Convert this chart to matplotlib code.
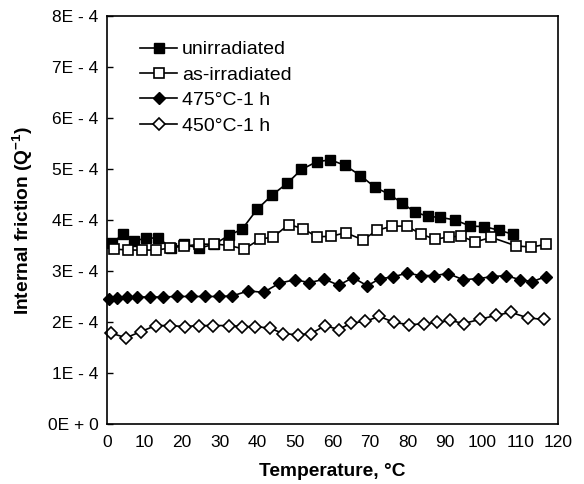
import numpy as np
import matplotlib
matplotlib.use('Agg')
import matplotlib.pyplot as plt

plt.rcParams['font.family'] = ['Liberation Sans', 'DejaVu Sans']
plt.rcParams['mathtext.fontset'] = 'custom'
plt.rcParams['mathtext.rm'] = 'Liberation Sans'
plt.rcParams['mathtext.bf'] = 'Liberation Sans:bold'

# unirradiated (filled squares)
t_unirr = [1.4, 4.3, 7.2, 10.3, 13.6, 17.0, 20.5, 24.5, 28.5, 32.5, 36.0, 40.0, 44.0, 48.0,
           51.8, 55.8, 59.5, 63.4, 67.5, 71.4, 75.0, 78.6, 81.9, 85.4, 88.8, 92.7, 96.7,
           100.5, 104.3, 108.1]
q_unirr = [3.55, 3.72, 3.59, 3.64, 3.65, 3.46, 3.52, 3.45, 3.52, 3.70, 3.82, 4.21, 4.49, 4.72,
           4.99, 5.14, 5.18, 5.07, 4.87, 4.64, 4.51, 4.33, 4.16, 4.07, 4.05, 4.00, 3.88,
           3.87, 3.80, 3.72]

# as-irradiated (open squares)
t_asirr = [1.9, 5.7, 9.3, 13.2, 16.8, 20.5, 24.5, 28.5, 32.5, 36.5, 40.7, 44.3, 48.4, 52.3,
           55.8, 59.6, 63.6, 68.1, 72.0, 76.0, 79.8, 83.7, 87.4, 91.0, 94.3, 98.1, 102.3,
           109.0, 113.0, 116.8]
q_asirr = [3.43, 3.41, 3.41, 3.41, 3.45, 3.49, 3.52, 3.53, 3.50, 3.43, 3.62, 3.67, 3.91, 3.83,
           3.67, 3.68, 3.75, 3.61, 3.80, 3.88, 3.88, 3.72, 3.62, 3.67, 3.68, 3.57, 3.66,
           3.49, 3.47, 3.52]

# 475C-1 h (filled diamonds)
t_475 = [0.5, 2.7, 5.3, 8.1, 11.4, 14.9, 18.6, 22.3, 26.1, 29.9, 33.4, 37.6, 41.7, 45.9,
         50.1, 53.9, 57.9, 61.7, 65.5, 69.3, 72.7, 76.1, 79.8, 83.5, 87.2, 90.8, 94.8,
         98.8, 102.6, 106.3, 109.9, 113.2, 116.8]
q_475 = [2.46, 2.48, 2.49, 2.49, 2.49, 2.49, 2.50, 2.50, 2.50, 2.50, 2.51, 2.61, 2.58, 2.76,
         2.83, 2.77, 2.84, 2.72, 2.87, 2.71, 2.85, 2.88, 2.96, 2.91, 2.91, 2.95, 2.83,
         2.85, 2.89, 2.91, 2.83, 2.79, 2.89]

# 450C-1 h (open diamonds)
t_450 = [1.2, 5.1, 9.0, 13.0, 16.7, 20.7, 24.5, 28.3, 32.4, 36.0, 39.5, 43.4, 47.0, 50.8,
         54.3, 58.1, 61.7, 65.0, 68.7, 72.5, 76.5, 80.3, 84.3, 87.8, 91.4, 95.0, 99.2,
         103.5, 107.6, 112.0, 116.3]
q_450 = [1.78, 1.69, 1.81, 1.93, 1.93, 1.91, 1.93, 1.93, 1.93, 1.91, 1.91, 1.88, 1.77, 1.75,
         1.77, 1.93, 1.85, 1.98, 2.01, 2.11, 1.99, 1.95, 1.96, 1.99, 2.03, 1.97, 2.05,
         2.13, 2.19, 2.08, 2.05]

y_labels = ['0E + 0', '1E - 4', '2E - 4', '3E - 4', '4E - 4', '5E - 4', '6E - 4', '7E - 4', '8E - 4']

fig = plt.figure(figsize=(5.84, 4.84), dpi=100)
ax = fig.add_axes([0.183, 0.124, 0.772, 0.843])

lw = 1.2
ax.plot(t_unirr, np.array(q_unirr) * 1e-4, '-s', color='black', mfc='black', mec='black',
        ms=7, lw=lw, label='unirradiated', clip_on=False)
ax.plot(t_asirr, np.array(q_asirr) * 1e-4, '-s', color='black', mfc='white', mec='black',
        ms=7, mew=1.2, lw=lw, label='as-irradiated', clip_on=False)
ax.plot(t_475, np.array(q_475) * 1e-4, '-D', color='black', mfc='black', mec='black',
        ms=6, lw=lw, label='475°C-1 h', clip_on=False)
ax.plot(t_450, np.array(q_450) * 1e-4, '-D', color='black', mfc='white', mec='black',
        ms=6, mew=1.2, lw=lw, label='450°C-1 h', clip_on=False)

ax.set_xlim(0, 120)
ax.set_ylim(0, 8e-4)
ax.set_xticks(np.arange(0, 121, 10))
ax.set_yticks(np.arange(0, 9) * 1e-4)
ax.set_yticklabels(y_labels)
ax.tick_params(axis='y', direction='in', length=4, width=1, labelsize=12.5, pad=6)
ax.tick_params(axis='x', length=0, labelsize=12.5, pad=8)
for s in ax.spines.values():
    s.set_linewidth(1.2)

ax.set_xlabel('Temperature, °C', fontsize=13.8, fontweight='bold', labelpad=9)
ax.set_ylabel(r'Internal friction (Q$^{\mathbf{-1}}$)', fontsize=13.8, fontweight='bold',
              labelpad=9)

ax.legend(loc='upper left', bbox_to_anchor=(0.035, 0.982), frameon=False, fontsize=14,
          handlelength=1.9, handletextpad=0.25, labelspacing=0.4)

fig.savefig('out.png', dpi=100)
